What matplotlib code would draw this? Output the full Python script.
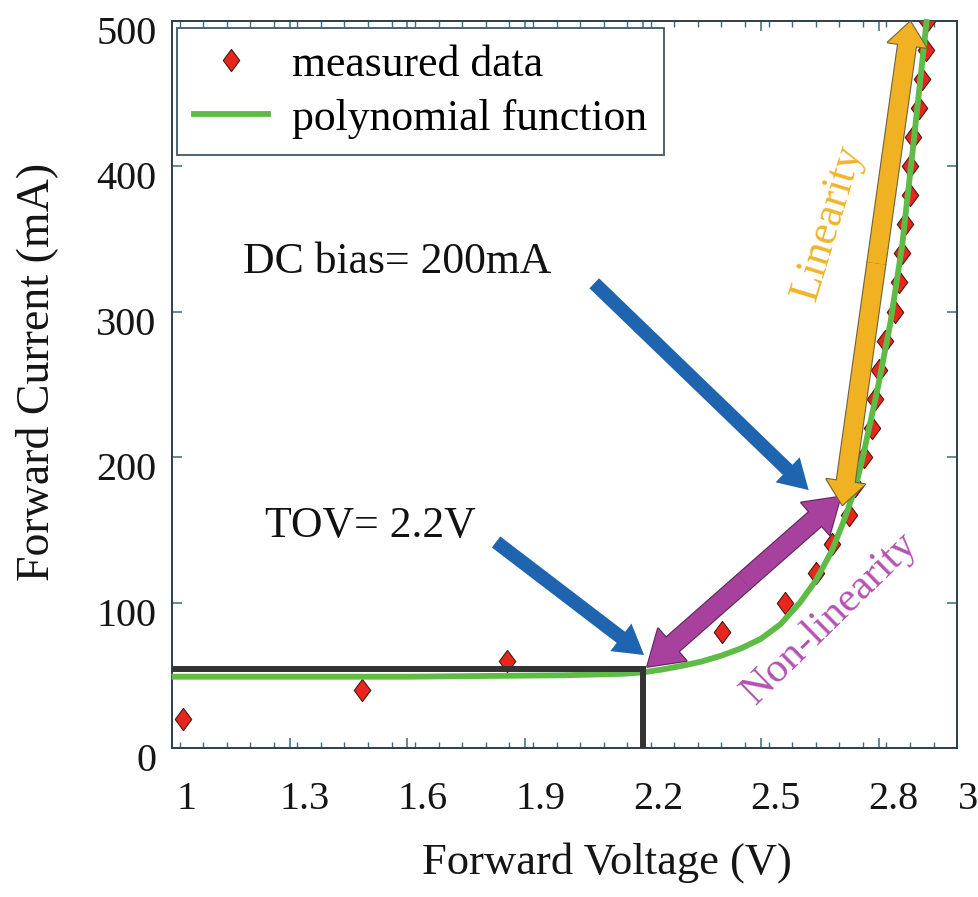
import matplotlib
matplotlib.use("Agg")
import matplotlib.pyplot as plt
from matplotlib.patches import FancyArrowPatch, ArrowStyle
from matplotlib.transforms import ScaledTranslation
from matplotlib.lines import Line2D
from matplotlib.ticker import MultipleLocator, FixedLocator

# ---------------- data ----------------
measured_voltage = [1.030, 1.485, 1.854, 2.402, 2.561, 2.642, 2.681, 2.724, 2.741,
                    2.762, 2.783, 2.791, 2.800, 2.817, 2.842, 2.851, 2.859, 2.868,
                    2.881, 2.879, 2.889, 2.902, 2.910, 2.921, 2.923]
measured_current = [20, 40, 60, 80, 100, 120, 140, 160, 180,
                    200, 220, 240, 260, 280, 300, 320, 340, 360,
                    380, 400, 420, 440, 460, 480, 500]

poly_voltage = [1.0, 1.6, 2.0, 2.15, 2.20, 2.25, 2.30, 2.35, 2.40, 2.45, 2.50,
                2.55, 2.60, 2.64, 2.68, 2.71, 2.74, 2.76, 2.80, 2.83, 2.86,
                2.89, 2.923]
poly_current = [49, 49, 50, 51, 52, 54, 56.5, 59.5, 63.5, 68.5, 75,
                85, 100, 115, 135, 155, 178, 200, 250, 292, 345,
                418, 501]

tov_voltage = 2.2
tov_current = 54.5

x_ticks = [1.0, 1.3, 1.6, 1.9, 2.2, 2.5, 2.8, 3.0]
x_tick_labels = ["1", "1.3", "1.6", "1.9", "2.2", "2.5", "2.8", "3"]
y_ticks = [0, 100, 200, 300, 400, 500]
y_tick_labels = ["0", "100", "200", "300", "400", "500"]

legend_labels = ["measured data", "polynomial function"]
x_label = "Forward Voltage (V)"
y_label = "Forward Current (mA)"

# annotations (data coordinates)
dc_bias_text = "DC bias= 200mA"
dc_bias_text_pos = (1.182, 326.7)
dc_bias_arrow = ((2.076, 319.4), (2.622, 177.3))
tov_text = "TOV= 2.2V"
tov_text_pos = (1.237, 145.3)
tov_arrow = ((1.826, 141.6), (2.203, 63.9))
nonlin_arrow = ((2.211, 55.9), (2.703, 172.7))
lin_arrow = ((2.708, 167.0), (2.881, 499.2))
lin_text = "Linearity"
lin_text_pos = (2.672, 360.8)
nonlin_text = "Non-linearity"
nonlin_text_pos = (2.677, 89.1)

# ---------------- styling ----------------
plt.rcParams['font.family'] = ['Liberation Serif', 'DejaVu Serif']
SPINE = '#2c3f4c'
TICKC = '#3b6a80'
GREEN = '#5DBB46'
RED = '#E8261D'
BLUE = '#1F64AE'
PURPLE = '#A8419E'
ORANGE = '#F0B122'

fig = plt.figure(figsize=(9.79, 8.97), dpi=100)
ax = fig.add_axes([0.1754, 0.1661, 0.8022, 0.8110])

ax.set_xlim(1.0, 3.0)
ax.set_ylim(0, 500)

# diamond marker (slightly wider than 'd')
diamond = [(0, 1), (0.74, 0), (0, -1), (-0.74, 0), (0, 1)]

ax.plot(measured_voltage, measured_current, linestyle='none', marker=diamond,
        markersize=16, markerfacecolor=RED, markeredgecolor='#4a1a12',
        markeredgewidth=0.8, zorder=3)
ax.plot(poly_voltage, poly_current, color=GREEN, linewidth=4.2,
        solid_capstyle='butt', solid_joinstyle='round', zorder=4, clip_on=False)

# TOV guide lines
ax.plot([ax.get_xlim()[0], tov_voltage, tov_voltage], [tov_current, tov_current, 0],
        color='#333333', linewidth=4.3, solid_joinstyle='miter',
        solid_capstyle='butt', zorder=5)


def arrow(p_from, p_to, color, tail, hw, hl, z, edge=None):
    style = ArrowStyle.Simple(head_length=hl, head_width=hw, tail_width=tail)
    if edge is not None:
        a = FancyArrowPatch(p_from, p_to, arrowstyle=style, mutation_scale=1,
                            shrinkA=0, shrinkB=0, facecolor=color,
                            edgecolor=edge, linewidth=1.6, zorder=z)
        ax.add_patch(a)
    a = FancyArrowPatch(p_from, p_to, arrowstyle=style, mutation_scale=1,
                        shrinkA=0, shrinkB=0, facecolor=color,
                        edgecolor='none', linewidth=0, zorder=z + 0.01)
    ax.add_patch(a)


def double_arrow(p1, p2, color, tail, hw, hl, z, edge=None):
    mid = ((p1[0] + p2[0]) / 2.0, (p1[1] + p2[1]) / 2.0)
    arrow(mid, p1, color, tail, hw, hl, z, edge)
    arrow(mid, p2, color, tail, hw, hl, z, edge)


arrow(dc_bias_arrow[0], dc_bias_arrow[1], BLUE, 10, 25, 21, 6)
arrow(tov_arrow[0], tov_arrow[1], BLUE, 10, 25, 21, 6)
double_arrow(nonlin_arrow[0], nonlin_arrow[1], PURPLE, 13.5, 31, 24, 7, edge='#5a2a55')
double_arrow(lin_arrow[0], lin_arrow[1], ORANGE, 13, 28, 17, 8, edge='#6b6340')

# texts
ax.text(dc_bias_text_pos[0], dc_bias_text_pos[1], dc_bias_text, fontsize=31.5,
        ha='left', va='baseline', color='#111111', zorder=9)
ax.text(tov_text_pos[0], tov_text_pos[1], tov_text, fontsize=31.5,
        ha='left', va='baseline', color='#111111', zorder=9)
ax.text(lin_text_pos[0], lin_text_pos[1], lin_text, fontsize=31.5, color='#F0B42A',
        rotation=73, rotation_mode='anchor', ha='center', va='center', zorder=9)
ax.text(nonlin_text_pos[0], nonlin_text_pos[1], nonlin_text, fontsize=30.5,
        color='#B452B0', rotation=44.4, rotation_mode='anchor', ha='center',
        va='center', zorder=9)

# axes / ticks
for sp in ax.spines.values():
    sp.set_color(SPINE)
    sp.set_linewidth(1.4)

ax.xaxis.set_major_locator(FixedLocator(x_ticks))
ax.set_xticklabels(x_tick_labels)
ax.xaxis.set_minor_locator(MultipleLocator(0.06))
ax.yaxis.set_major_locator(FixedLocator(y_ticks))
ax.set_yticklabels(y_tick_labels)

ax.tick_params(axis='both', which='both', direction='in', top=True, right=True,
               color=TICKC, labelcolor='#151515')
ax.tick_params(axis='both', which='major', length=7, width=1.1, labelsize=29)
ax.tick_params(axis='x', which='minor', length=4.5, width=1.0)
ax.tick_params(axis='x', which='major', pad=24)
ax.tick_params(axis='y', which='major', pad=11)

# the reference's tick labels sit a little off their ticks
for i, lbl in enumerate(ax.get_xticklabels()):
    dx = 0.11 if i == len(x_tick_labels) - 1 else 0.15
    lbl.set_transform(lbl.get_transform() + ScaledTranslation(dx, 0, fig.dpi_scale_trans))
for lbl in ax.get_yticklabels():
    lbl.set_transform(lbl.get_transform() + ScaledTranslation(0, -0.09, fig.dpi_scale_trans))

ax.set_xlabel(x_label, fontsize=32, color='#151515')
ax.set_ylabel(y_label, fontsize=33, color='#151515')
ax.xaxis.set_label_coords(0.554, -0.157)
ax.xaxis.label.set_va('center')
ax.yaxis.set_label_coords(-0.1715, 0.517)
ax.yaxis.label.set_va('center')

# legend
handles = [Line2D([], [], linestyle='none', marker=diamond, markersize=16,
                  markerfacecolor=RED, markeredgecolor='#4a1a12', markeredgewidth=0.8),
           Line2D([], [], color=GREEN, linewidth=4.2)]
leg = ax.legend(handles, legend_labels, loc='upper left',
                bbox_to_anchor=(0.0067, 0.9897), borderaxespad=0,
                fontsize=31.5, handlelength=1.71, handletextpad=0.55,
                borderpad=0.38, labelspacing=0.32, numpoints=1,
                fancybox=False, framealpha=1, edgecolor='#3f5866')
leg.get_frame().set_linewidth(1.3)
leg.set_zorder(10)

fig.savefig('out.png', dpi=100, facecolor='white')
